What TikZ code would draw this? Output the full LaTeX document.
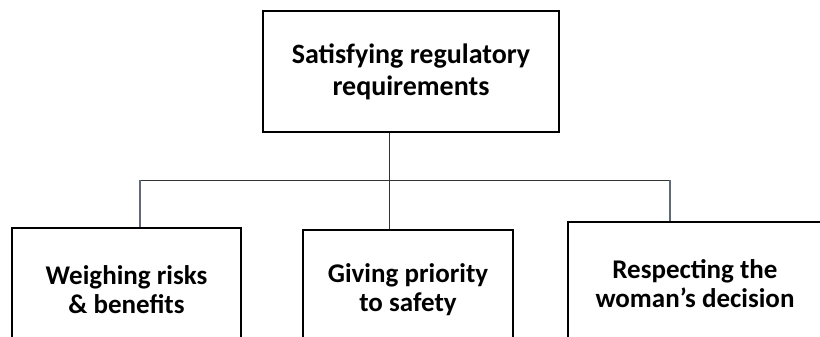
\documentclass[tikz,border=0pt]{standalone}
\usepackage{fontspec}
\setmainfont{Carlito}
\usetikzlibrary{positioning}
\definecolor{slate}{RGB}{95,105,120}
\tikzset{
  box/.style={draw, line width=2pt, align=center, font=\bfseries\fontsize{27}{29}\selectfont, inner sep=0pt},
  link/.style={line width=0.9pt, black!80},
  drop/.style={line width=1.3pt, slate}
}
\begin{document}
\begin{tikzpicture}[x=1pt,y=-1pt]
\def\busy{180}
\useasboundingbox (0,0) rectangle (820,337);
\clip (0,0) rectangle (820,337);
\node (top) [box, minimum width=296pt, minimum height=121pt, font=\bfseries\fontsize{28}{32}\selectfont] at (411,71.5) {Satisfying regulatory\\requirements};
\node (weigh) [box, minimum width=229pt, minimum height=124pt] at (126.5,290) {Weighing risks\\\& benefits};
\node (safety) [box, minimum width=210pt, minimum height=120pt] at (408,290) {Giving priority\\to safety};
\node (respect) [box, minimum width=254pt, minimum height=124pt] at (695,284) {Respecting the\\woman’s decision};
\coordinate (joint) at (389,\busy);
\coordinate (lbus) at (140,\busy);
\coordinate (rbus) at (670,\busy);
\draw[link] (lbus) -- (rbus);
\draw[link] (top.south -| joint) -- (safety.north -| joint);
\draw[drop] (lbus) -- (lbus |- weigh.north);
\draw[drop] (rbus) -- (rbus |- respect.north);
\end{tikzpicture}
\end{document}
